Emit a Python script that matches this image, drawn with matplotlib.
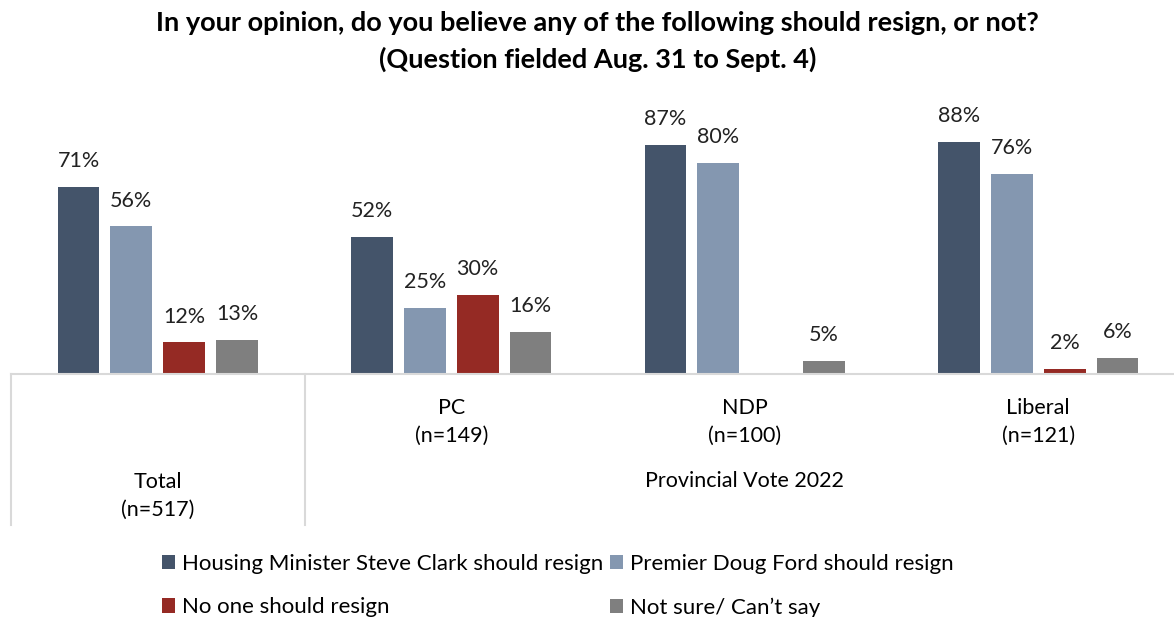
import numpy as np
import matplotlib.pyplot as plt
from matplotlib.patches import Patch
from matplotlib.lines import Line2D

plt.rcParams['font.family'] = ['Lato', 'DejaVu Sans']

groups = ['Total\n(n=517)', 'PC\n(n=149)', 'NDP\n(n=100)', 'Liberal\n(n=121)']
series = ['Housing Minister Steve Clark should resign',
          'Premier Doug Ford should resign',
          'No one should resign',
          'Not sure/ Can\u2019t say']
clark = [71, 52, 87, 88]
ford = [56, 25, 80, 76]
no_one = [12, 30, None, 2]
not_sure = [13, 16, 5, 6]
colors = ['#44546A', '#8497B0', '#952A24', '#7F7F7F']

values = [clark, ford, no_one, not_sure]

fig = plt.figure(figsize=(11.74, 6.17), dpi=100)
ax = fig.add_axes([11/1174, (617-374)/617, (1174-11)/1174, 274/617])

x = np.arange(len(groups))
width = 0.143
step = 0.18
for i, (vals, col) in enumerate(zip(values, colors)):
    xs = x + (i - 1.5) * step
    for xi, v in zip(xs, vals):
        if v is None:
            continue
        ax.bar(xi, v, width=width, color=col)
        ax.text(xi, v + 6, f'{v}%', ha='center', va='bottom', fontsize=15.5, color='#222222')

ax.set_xlim(-0.5, -0.5 + (1174-11)/293.5)
ax.set_ylim(0, 104)
ax.set_yticks([])
ax.set_xticks([])
for s in ['top', 'right', 'left']:
    ax.spines[s].set_visible(False)
ax.spines['bottom'].set_color('#D9D9D9')
ax.spines['bottom'].set_linewidth(1.5)

# category labels
trans = ax.get_xaxis_transform()
for i, g in enumerate(groups):
    yl = -0.445 if i == 0 else -0.175
    ax.text(i, yl, g, transform=trans, ha='center', va='center', fontsize=15.5, linespacing=1.55)
ax.text(2, -0.39, 'Provincial Vote 2022', transform=trans, ha='center', va='center', fontsize=15.5)

# separator lines of the multi-level axis
for xv in [-0.5, 0.5]:
    ax.add_line(Line2D([xv, xv], [0, -(525-374)/274], transform=trans, color='#D9D9D9',
                       lw=1.5, clip_on=False))

fig.text(0.509, 0.982, 'In your opinion, do you believe any of the following should resign, or not?\n'
         '(Question fielded Aug. 31 to Sept. 4)', ha='center', va='top', fontsize=19.5,
         fontweight='bold', linespacing=1.55)

order = [0, 2, 1, 3]
handles = [Patch(facecolor=colors[k]) for k in order]
labels = [series[k] for k in order]
fig.legend(handles, labels, ncol=2, loc='upper left', bbox_to_anchor=(142/1174, 1 - 534/617),
           frameon=False, fontsize=16, handlelength=0.6, handleheight=0.6,
           handletextpad=0.3, columnspacing=0.3, labelspacing=1.05)

fig.savefig('out.png', dpi=100)
